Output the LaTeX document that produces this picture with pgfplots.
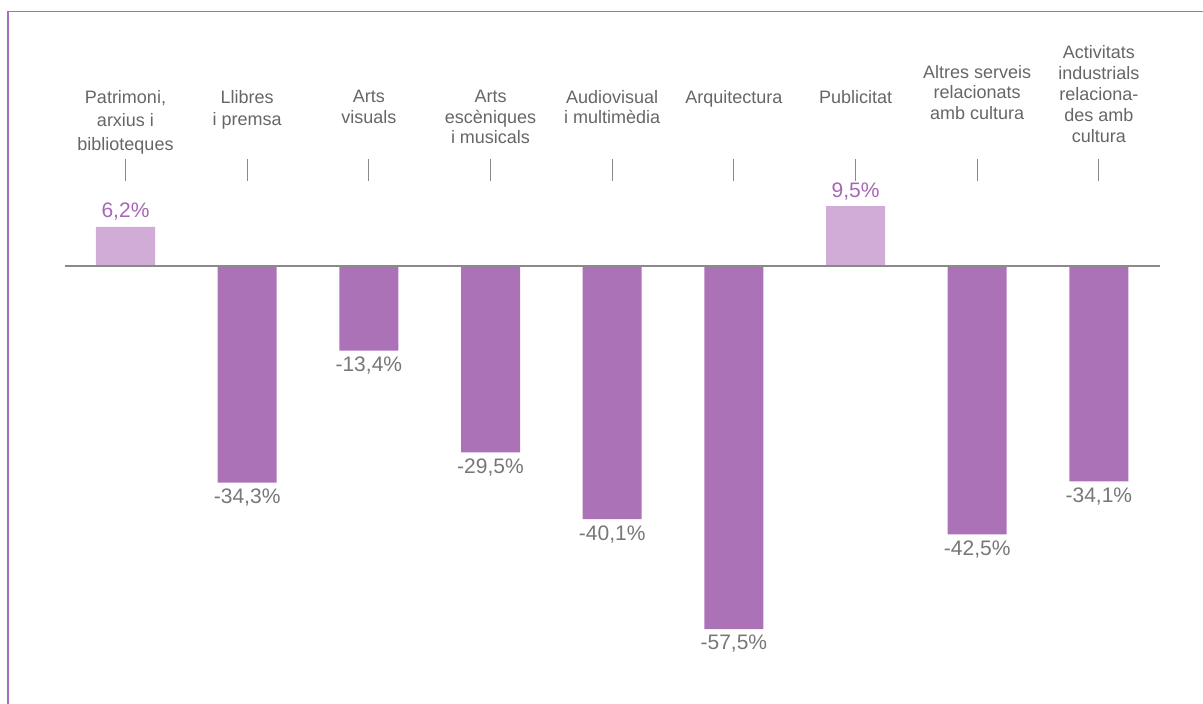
\documentclass[border=0pt]{standalone}
\usepackage{fontspec}
\setmainfont{Liberation Sans}
\usepackage{pgfplots}
\pgfplotsset{compat=1.18}
\definecolor{barneg}{HTML}{AC72B8}
\definecolor{barpos}{HTML}{D1ACD6}
\definecolor{valpos}{HTML}{A866B5}
\definecolor{valneg}{HTML}{777777}
\definecolor{cattxt}{HTML}{666666}
\definecolor{framecol}{HTML}{A66DB8}
\definecolor{zerocol}{HTML}{8A8A8A}
\begin{document}
\begin{tikzpicture}
\begin{axis}[
  x=121.67pt, y=6.315pt,
  xmin=-0.5, xmax=8.5, ymin=-60, ymax=10,
  hide axis, clip=false,
  ybar, bar width=59pt, bar shift=0pt,
  nodes near coords={\pgfmathprintnumber[use comma,fixed,fixed zerofill,precision=1,assume math mode=true]{\pgfplotspointmeta}\%},
]
\addplot[draw=none, fill=barpos,
  nodes near coords style={font=\fontsize{21}{24}\selectfont, text=valpos, inner sep=0pt, anchor=south, yshift=6pt}]
  coordinates {(0,6.2) (6,9.5)};
\addplot[draw=none, fill=barneg,
  nodes near coords style={font=\fontsize{21}{24}\selectfont, text=valneg, inner sep=0pt, anchor=north, yshift=-6pt}]
  coordinates {(1,-34.3) (2,-13.4) (3,-29.5) (4,-40.1) (5,-57.5) (7,-42.5) (8,-34.1)};
\draw[zerocol, line width=2pt] (axis cs:-0.5,0) -- (axis cs:8.5,0);
\pgfplotsinvokeforeach{0,...,8}{
  \draw[zerocol, line width=1pt] ([yshift=85pt]axis cs:#1,0) -- ([yshift=107pt]axis cs:#1,0);
}
\tikzset{cat/.style={anchor=north, inner sep=0pt, align=center, text=cattxt}}
\node[cat, font=\fontsize{18}{23.5}\selectfont] at ([yshift=176pt]axis cs:0,0) {Patrimoni,\\arxius i\\biblioteques};
\node[cat, font=\fontsize{18}{22}\selectfont] at ([yshift=176pt]axis cs:1,0) {Llibres\\i premsa};
\node[cat, font=\fontsize{18}{20.5}\selectfont] at ([yshift=176pt]axis cs:2,0) {Arts\\visuals};
\node[cat, font=\fontsize{18}{20.5}\selectfont] at ([yshift=176pt]axis cs:3,0) {Arts\\escèniques\\i musicals};
\node[cat, font=\fontsize{18}{20.5}\selectfont] at ([yshift=176pt]axis cs:4,0) {Audiovisual\\i multimèdia};
\node[cat, font=\fontsize{18}{20.5}\selectfont] at ([yshift=176pt]axis cs:5,0) {Arquitectura};
\node[cat, font=\fontsize{18}{20.5}\selectfont] at ([yshift=176pt]axis cs:6,0) {Publicitat};
\node[cat, font=\fontsize{18}{20.5}\selectfont] at ([yshift=201pt]axis cs:7,0) {Altres serveis\\relacionats\\amb cultura};
\node[cat, font=\fontsize{18}{21}\selectfont] at ([yshift=221pt]axis cs:8,0) {Activitats\\industrials\\relaciona-\\des amb\\cultura};
\coordinate (bb1) at ([shift={(-125.5pt,-438pt)}]axis cs:0,0);
\coordinate (bb2) at ([shift={(1077.5pt,266pt)}]axis cs:0,0);
\coordinate (fbl) at ([shift={(-117.5pt,-440pt)}]axis cs:0,0);
\coordinate (ftl) at ([shift={(-117.5pt,254.5pt)}]axis cs:0,0);
\coordinate (ftr) at ([shift={(1080pt,254.5pt)}]axis cs:0,0);
\end{axis}
\draw[framecol, line width=1.4pt] (fbl) -- (ftl) -- (ftr);
\pgfresetboundingbox
\path[use as bounding box] (bb1) rectangle (bb2);
\end{tikzpicture}
\end{document}
